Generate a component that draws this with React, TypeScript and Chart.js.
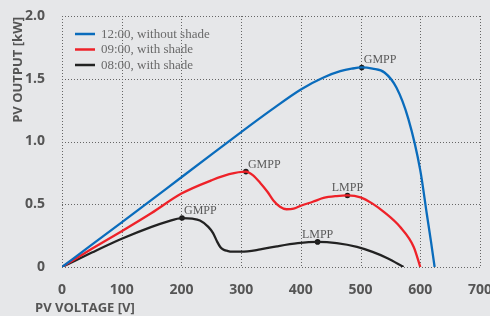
import React, { useEffect, useRef } from "react";
import { Chart, registerables } from "chart.js";

Chart.register(...registerables);

const seriesLabels = ["12:00, without shade", "09:00, with shade", "08:00, with shade"];
const seriesColors = ["#0a6cbc", "#ee2229", "#222222"];

const blueVoltage = [0, 50, 100, 150, 200, 250, 300, 350, 400, 438, 466, 485, 502, 520, 540, 560, 580, 600, 611, 618, 624];
const bluePower = [0, 0.178, 0.355, 0.535, 0.715, 0.895, 1.075, 1.25, 1.415, 1.51, 1.56, 1.58, 1.59, 1.58, 1.55, 1.43, 1.18, 0.77, 0.42, 0.2, 0];

const redVoltage = [0, 50, 100, 150, 200, 250, 280, 308, 320, 332, 344, 354, 365, 376, 388, 401, 420, 438, 460, 478, 500, 520, 540, 566, 589, 600];
const redPower = [0, 0.145, 0.285, 0.43, 0.585, 0.69, 0.74, 0.76, 0.73, 0.67, 0.6, 0.53, 0.48, 0.46, 0.465, 0.49, 0.52, 0.55, 0.565, 0.57, 0.555, 0.505, 0.435, 0.32, 0.16, 0];

const blackVoltage = [0, 50, 100, 150, 175, 201, 218, 231, 245, 253, 260, 265, 270, 276, 285, 300, 332, 360, 395, 428, 460, 494, 520, 545, 572];
const blackPower = [0, 0.115, 0.225, 0.32, 0.36, 0.39, 0.385, 0.37, 0.32, 0.27, 0.2, 0.16, 0.14, 0.13, 0.122, 0.122, 0.14, 0.165, 0.19, 0.2, 0.19, 0.16, 0.12, 0.07, 0];

const markerLabels = ["GMPP", "GMPP", "GMPP", "LMPP", "LMPP"];
const markerVoltage = [502, 308, 201, 478, 428];
const markerPower = [1.59, 0.76, 0.39, 0.57, 0.2];

const xTitle = "PV VOLTAGE [V]";
const yTitle = "PV OUTPUT [kW]";
const xMin = 0, xMax = 700, xStep = 100;
const yMin = 0, yMax = 2, yStep = 0.5;

const toPoints = (xs: number[], ys: number[]) => xs.map((x, i) => ({ x, y: ys[i] }));

const BG = "#e6e7e9";
const TICK_COLOR = "#555555";
const BOLD_FONT = "'Open Sans'";
const SERIF = "'Liberation Serif', 'Times New Roman', serif";
const GRID_COLOR = "#666666";

export default function App() {
  const ref = useRef<HTMLCanvasElement | null>(null);

  useEffect(() => {
    if (!ref.current) return;

    const overlay = {
      id: "overlay",
      beforeDatasetsDraw(chart: any) {
        const ctx = chart.ctx;
        const area = chart.chartArea;
        const xs = chart.scales.x;
        const ys = chart.scales.y;
        ctx.save();
        ctx.fillStyle = GRID_COLOR;
        for (let v = xMin; v <= xMax + 1e-9; v += xStep) {
          const px = Math.round(xs.getPixelForValue(v));
          for (let y = Math.round(area.top); y <= area.bottom; y += 3) ctx.fillRect(px, y, 1, 1);
        }
        for (let v = yMin; v <= yMax + 1e-9; v += yStep) {
          const py = Math.round(ys.getPixelForValue(v));
          for (let x = Math.round(area.left); x <= area.right; x += 3) ctx.fillRect(x, py, 1, 1);
        }
        ctx.restore();
      },
      afterDatasetsDraw(chart: any) {
        const ctx = chart.ctx;
        const area = chart.chartArea;
        const meta = chart.getDatasetMeta(3);
        ctx.save();
        ctx.font = `12px ${SERIF}`;
        ctx.fillStyle = "#5a5a5a";
        ctx.textBaseline = "alphabetic";
        meta.data.forEach((pt: any, i: number) => {
          const label = markerLabels[i];
          if (label === "GMPP") {
            ctx.textAlign = "left";
            ctx.fillText(label, pt.x + 2, pt.y - 4);
          } else {
            ctx.textAlign = "center";
            ctx.fillText(label, pt.x, pt.y - 4);
          }
        });
        ctx.font = `13px ${SERIF}`;
        ctx.textAlign = "left";
        ctx.textBaseline = "middle";
        seriesLabels.forEach((lab, i) => {
          const y = area.top + 18 + i * 15.5;
          ctx.strokeStyle = seriesColors[i];
          ctx.lineWidth = 2.5;
          ctx.beginPath();
          ctx.moveTo(area.left + 13, y);
          ctx.lineTo(area.left + 33, y);
          ctx.stroke();
          ctx.fillStyle = "#6a6a6a";
          ctx.fillText(lab, area.left + 39, y + 0.5);
        });
        ctx.restore();
      },
      afterDraw(chart: any) {
        const ctx = chart.ctx;
        const area = chart.chartArea;
        ctx.save();
        ctx.fillStyle = TICK_COLOR;
        ctx.font = `bold 13px ${BOLD_FONT}`;
        ctx.textBaseline = "middle";
        ctx.textAlign = "left";
        ctx.fillText(xTitle, 35, 308.5);
        ctx.translate(18, area.top + 1);
        ctx.rotate(-Math.PI / 2);
        ctx.textAlign = "right";
        ctx.fillText(yTitle, 0, 0);
        ctx.restore();
      },
    };

    const chart = new Chart(ref.current, {
      type: "line",
      data: {
        datasets: [
          { label: seriesLabels[0], data: toPoints(blueVoltage, bluePower), borderColor: seriesColors[0] },
          { label: seriesLabels[1], data: toPoints(redVoltage, redPower), borderColor: seriesColors[1] },
          { label: seriesLabels[2], data: toPoints(blackVoltage, blackPower), borderColor: seriesColors[2] },
          {
            label: "markers",
            data: toPoints(markerVoltage, markerPower),
            showLine: false,
            pointRadius: 2.8,
            pointBackgroundColor: "#1a1a1a",
            pointBorderWidth: 0,
            borderColor: "#1a1a1a",
          },
        ].map((d: any, i) =>
          i < 3
            ? { ...d, borderWidth: 2.3, pointRadius: 0, cubicInterpolationMode: "monotone", fill: false }
            : d
        ),
      },
      options: {
        animation: false,
        responsive: false,
        maintainAspectRatio: false,
        layout: { padding: { top: 16, right: 10, left: 0, bottom: 0 } },
        plugins: { legend: { display: false }, tooltip: { enabled: false } },
        scales: {
          x: {
            type: "linear",
            min: xMin,
            max: xMax,
            ticks: {
              stepSize: xStep,
              color: TICK_COLOR,
              font: { family: BOLD_FONT, weight: "bold", size: 14 },
              padding: 7,
              maxRotation: 0,
            },
            grid: { display: false },
            border: { display: false },
            afterFit(scale: any) {
              scale.height = 49;
              scale.paddingLeft = 0;
              scale.paddingRight = 0;
            },
          },
          y: {
            type: "linear",
            min: yMin,
            max: yMax,
            ticks: {
              stepSize: yStep,
              color: TICK_COLOR,
              font: { family: BOLD_FONT, weight: "bold", size: 14 },
              padding: 9,
              callback: (v: any) => (v === 0 ? "0" : Number(v).toFixed(1)),
            },
            grid: { display: false },
            border: { display: false },
            afterFit(scale: any) {
              scale.width = 62;
              scale.paddingTop = 0;
              scale.paddingBottom = 0;
            },
          },
        },
      } as any,
      plugins: [overlay],
    });

    return () => chart.destroy();
  }, []);

  return (
    <div style={{ position: "absolute", left: 0, top: 0, width: 490, height: 316, background: BG }}>
      <canvas ref={ref} width={490} height={316} style={{ width: 490, height: 316, display: "block" }} />
    </div>
  );
}
